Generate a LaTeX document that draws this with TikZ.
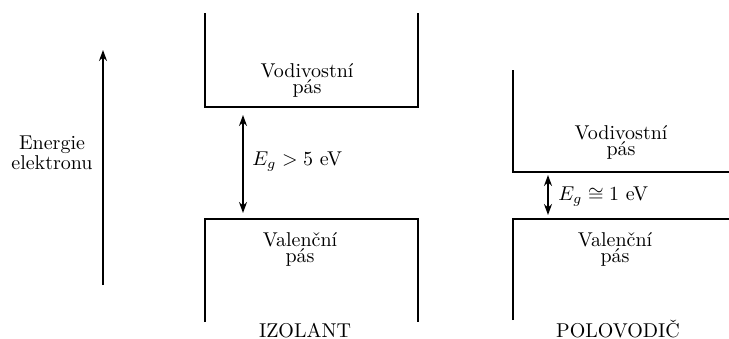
\documentclass[tikz,border=0pt]{standalone}
\usetikzlibrary{arrows.meta}

\begin{document}
\begin{tikzpicture}[x=0.5pt, y=-0.5pt,
  band/.style={line width=1.2pt},
  bandtext/.style={align=center, inner sep=1pt, font=\fontsize{10pt}{8pt}\selectfont},
  axistext/.style={align=center, inner sep=1pt, font=\fontsize{10pt}{10pt}\selectfont},
  gaptext/.style={anchor=west, inner sep=1pt},
  gaparrow/.style={{Stealth[length=5.5pt,width=4pt]}-{Stealth[length=5.5pt,width=4pt]}, line width=0.9pt}
  ]
  \useasboundingbox (0,0) rectangle (729,338);

  % energy axis
  \coordinate (eBot) at (103,285);
  \coordinate (eTop) at (103,50);
  \draw[-{Stealth[length=5.5pt,width=4pt]}, line width=0.9pt] (eBot) -- (eTop);
  \node[axistext] (energie) at (52,153) {Energie\\elektronu};

  % izolant
  \draw[band] (205,13) -- (205,107) -- (418,107) -- (418,13);
  \draw[band] (205,322) -- (205,219) -- (418,219) -- (418,322);
  \node[bandtext] (izVod) at (307,80) {Vodivostn\'{\i}\\p\'as};
  \node[bandtext] (izVal) at (300,249) {Valen\v{c}n\'{\i}\\p\'as};
  \coordinate (izGapTop) at (243,115);
  \coordinate (izGapBot) at (243,213);
  \draw[gaparrow] (izGapTop) -- (izGapBot);
  \node[gaptext] (izGap) at (250,162) {$E_g > 5$ eV};
  \node[anchor=base] (izolant) at (305,337) {IZOLANT};

  % polovodic
  \draw[band] (513,70) -- (513,172) -- (729,172);
  \draw[band] (513,320) -- (513,219) -- (729,219);
  \node[bandtext] (poVod) at (621,142) {Vodivostn\'{\i}\\p\'as};
  \node[bandtext] (poVal) at (615,249) {Valen\v{c}n\'{\i}\\p\'as};
  \coordinate (poGapTop) at (548,175);
  \coordinate (poGapBot) at (548,215);
  \draw[gaparrow] (poGapTop) -- (poGapBot);
  \node[gaptext] (poGap) at (556,197) {$E_g \cong 1$ eV};
  \node[anchor=base] (polovodic) at (618,337) {POLOVODI\v{C}};
\end{tikzpicture}
\end{document}
